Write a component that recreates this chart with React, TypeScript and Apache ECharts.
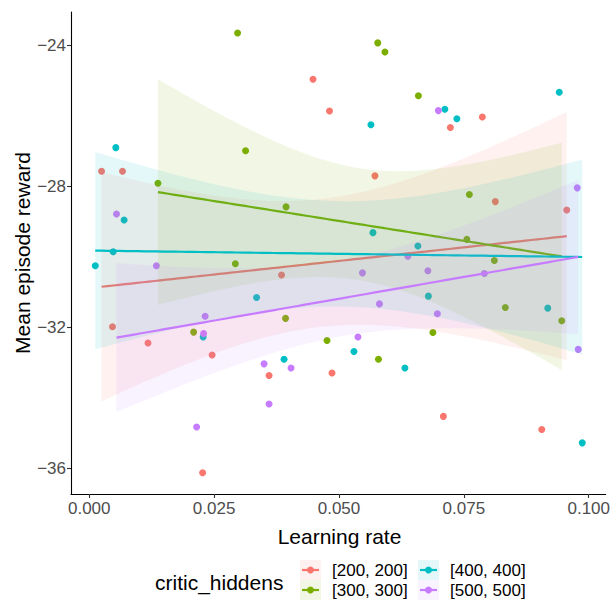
import React, { useEffect, useRef } from "react";
import * as echarts from "echarts";

const groupNames = ["[200, 200]", "[300, 300]", "[400, 400]", "[500, 500]"];
const groupColors = ["#F8766D", "#7CAE00", "#00BFC4", "#C77CFF"];

const lr200 = [0.0448, 0.0481, 0.00247, 0.00666, 0.0723, 0.0787, 0.0572, 0.0813, 0.0956, 0.0385, 0.00466, 0.01176, 0.0246, 0.036, 0.0486, 0.0227, 0.0709, 0.0906];
const rw200 = [-24.97, -25.87, -27.58, -27.58, -26.34, -26.04, -27.71, -28.44, -28.68, -30.52, -31.99, -32.45, -32.79, -33.37, -33.3, -36.13, -34.53, -34.9];

const lr300 = [0.0297, 0.0313, 0.01376, 0.0394, 0.05776, 0.0592, 0.0659, 0.0761, 0.0756, 0.02925, 0.0393, 0.0209, 0.0476, 0.0811, 0.0833, 0.0946, 0.0688, 0.0579];
const rw300 = [-23.66, -27.0, -27.92, -28.59, -23.94, -24.2, -25.44, -28.24, -29.51, -30.2, -31.75, -32.14, -32.38, -30.11, -31.44, -31.82, -32.15, -32.91];

const lr400 = [0.00532, 0.00698, 0.0712, 0.0736, 0.0564, 0.0941, 0.0568, 0.0658, 0.00479, 0.0012, 0.0335, 0.0228, 0.039, 0.0679, 0.0918, 0.053, 0.0632, 0.0987];
const rw400 = [-26.91, -28.96, -25.82, -26.09, -26.26, -25.34, -29.32, -29.7, -29.86, -30.26, -31.16, -32.28, -32.91, -31.12, -31.46, -32.69, -33.16, -35.28];

const lr500 = [0.00546, 0.0699, 0.0977, 0.01344, 0.0232, 0.0229, 0.035, 0.0404, 0.036, 0.0215, 0.0638, 0.0547, 0.0678, 0.0791, 0.0581, 0.0697, 0.0538, 0.0979];
const rw500 = [-28.79, -25.86, -28.05, -30.26, -31.69, -32.18, -33.04, -33.16, -34.18, -34.83, -29.99, -30.46, -30.4, -30.48, -31.34, -31.62, -32.28, -32.63];

const groupX = [lr200, lr300, lr400, lr500];
const groupY = [rw200, rw300, rw400, rw500];

const xTicks = [0, 0.025, 0.05, 0.075, 0.1];
const yTicks = [-36, -32, -28, -24];

const FONT = "'Liberation Sans', Arial, Helvetica, sans-serif";

function fitLm(xs: number[], ys: number[]) {
  const n = xs.length;
  const mx = xs.reduce((a, b) => a + b, 0) / n;
  const my = ys.reduce((a, b) => a + b, 0) / n;
  let sxx = 0, sxy = 0;
  for (let i = 0; i < n; i++) {
    sxx += (xs[i] - mx) ** 2;
    sxy += (xs[i] - mx) * (ys[i] - my);
  }
  const b = sxy / sxx;
  const a = my - b * mx;
  let sse = 0;
  for (let i = 0; i < n; i++) sse += (ys[i] - a - b * xs[i]) ** 2;
  const s = Math.sqrt(sse / (n - 2));
  const t = 2.119905; // df = 16
  const xmin = Math.min(...xs), xmax = Math.max(...xs);
  const upper: number[][] = [], lower: number[][] = [], line: number[][] = [];
  const N = 80;
  for (let k = 0; k < N; k++) {
    const x = xmin + ((xmax - xmin) * k) / (N - 1);
    const yh = a + b * x;
    const se = s * Math.sqrt(1 / n + (x - mx) ** 2 / sxx);
    upper.push([x, yh + t * se]);
    lower.push([x, yh - t * se]);
    line.push([x, yh]);
  }
  return { upper, lower, line };
}

export default function App() {
  const ref = useRef<HTMLDivElement>(null);
  useEffect(() => {
    if (!ref.current) return;
    const chart = echarts.init(ref.current, null, { renderer: "svg" });
    const series: any[] = [];
    groupNames.forEach((name, gi) => {
      series.push({
        type: "scatter",
        name,
        data: groupX[gi].map((x, i) => [x, groupY[gi][i]]),
        symbolSize: 7,
        itemStyle: { color: groupColors[gi], opacity: 1 },
        z: 2,
        silent: true,
      });
    });
    groupNames.forEach((name, gi) => {
      const fit = fitLm(groupX[gi], groupY[gi]);
      series.push({
        type: "custom",
        name: name + " band",
        data: [fit.line[0]],
        encode: { x: 0, y: 1 },
        silent: true,
        z: 3 + gi * 2,
        renderItem: (_p: any, api: any) => {
          const pts = fit.upper.map((p) => api.coord(p)).concat(
            fit.lower.slice().reverse().map((p) => api.coord(p))
          );
          return {
            type: "polygon",
            shape: { points: pts },
            style: { fill: groupColors[gi], opacity: 0.1 },
          };
        },
      });
      series.push({
        type: "line",
        name: name + " fit",
        data: fit.line,
        showSymbol: false,
        lineStyle: { color: groupColors[gi], width: 2.2 },
        itemStyle: { color: groupColors[gi] },
        z: 4 + gi * 2,
        silent: true,
      });
    });

    const graphics: any[] = [
      {
        type: "text",
        x: 22,
        y: 253,
        rotation: Math.PI / 2,
        style: {
          text: "Mean episode reward",
          font: `21px ${FONT}`,
          fill: "#000",
          align: "center",
          verticalAlign: "middle",
        },
      },
      {
        type: "text",
        x: 339.5,
        y: 536,
        style: {
          text: "Learning rate",
          font: `21px ${FONT}`,
          fill: "#000",
          align: "center",
          verticalAlign: "middle",
        },
      },
      {
        type: "text",
        x: 155,
        y: 582,
        style: {
          text: "critic_hiddens",
          font: `21px ${FONT}`,
          fill: "#000",
          align: "left",
          verticalAlign: "middle",
        },
      },
    ];
    const keyCols = [300, 300, 418, 418];
    const keyRows = [560, 580, 560, 580];
    groupNames.forEach((name, gi) => {
      const kx = keyCols[gi];
      const ky = keyRows[gi];
      graphics.push({
        type: "rect",
        shape: { x: kx, y: ky, width: 21, height: 20 },
        style: { fill: groupColors[gi], opacity: 0.1 },
      });
      graphics.push({
        type: "line",
        shape: { x1: kx + 2, y1: ky + 10, x2: kx + 19, y2: ky + 10 },
        style: { stroke: groupColors[gi], lineWidth: 2.2 },
      });
      graphics.push({
        type: "circle",
        shape: { cx: kx + 10.5, cy: ky + 10, r: 3.5 },
        style: { fill: groupColors[gi] },
      });
      graphics.push({
        type: "text",
        x: kx + 32,
        y: ky + 10.5,
        style: {
          text: name,
          font: `17px ${FONT}`,
          fill: "#000",
          align: "left",
          verticalAlign: "middle",
        },
      });
    });

    chart.setOption({
      animation: false,
      backgroundColor: "#fff",
      grid: { left: 71, right: 5, top: 12, bottom: 107, containLabel: false },
      xAxis: {
        type: "value",
        min: -0.00365,
        max: 0.10339,
        splitLine: { show: false },
        axisLine: { show: true, onZero: false, lineStyle: { color: "#000", width: 1.1 } },
        axisTick: { show: true, length: 4, lineStyle: { color: "#333", width: 1.1 }, customValues: xTicks },
        axisLabel: {
          customValues: xTicks,
          formatter: (v: number) => v.toFixed(3),
          color: "#4D4D4D",
          fontSize: 17,
          fontFamily: FONT,
          margin: 6,
        },
      },
      yAxis: {
        type: "value",
        min: -36.73,
        max: -23.064,
        splitLine: { show: false },
        axisLine: { show: true, onZero: false, lineStyle: { color: "#000", width: 1.1 } },
        axisTick: { show: true, length: 4, lineStyle: { color: "#333", width: 1.1 }, customValues: yTicks },
        axisLabel: {
          customValues: yTicks,
          formatter: (v: number) => (v < 0 ? "\u2212" + Math.abs(v) : String(v)),
          color: "#4D4D4D",
          fontSize: 17,
          fontFamily: FONT,
          margin: 5,
        },
      },
      series,
      graphic: graphics,
    });
    return () => chart.dispose();
  }, []);
  return <div ref={ref} style={{ width: 613, height: 601, position: "absolute", left: 0, top: 0 }} />;
}
